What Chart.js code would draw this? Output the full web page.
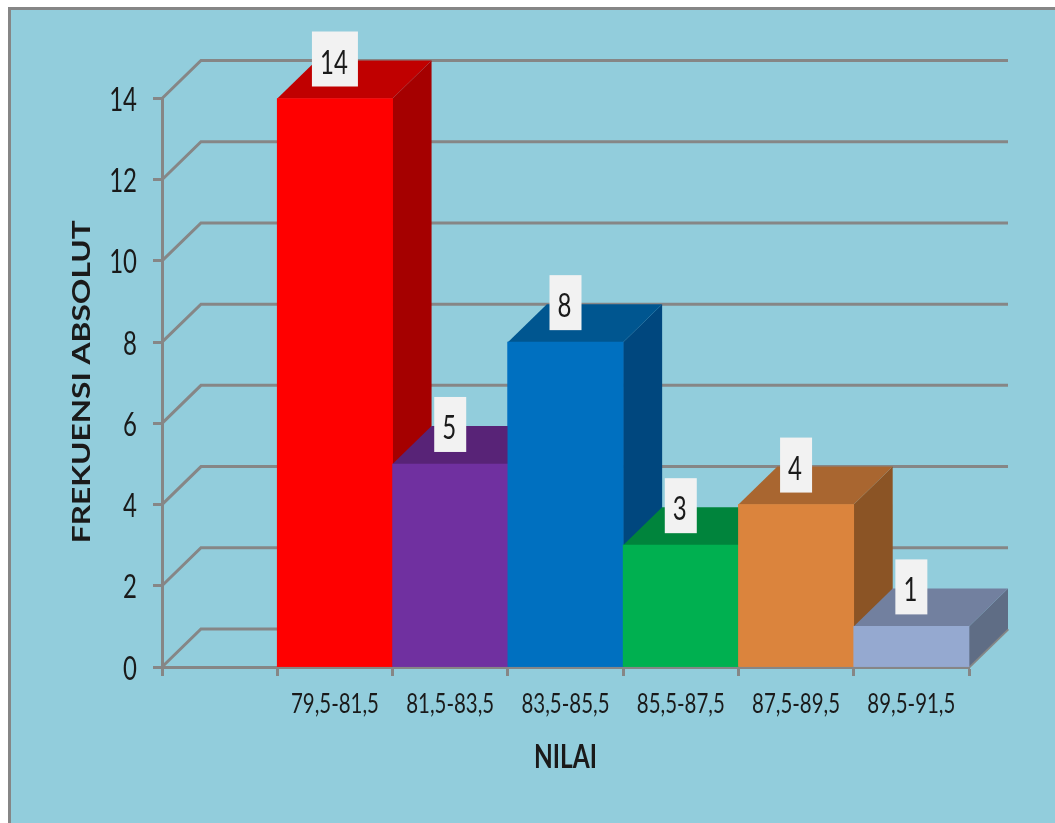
<!DOCTYPE html>
<html>
<head>
<meta charset="utf-8">
<style>
  html, body { margin: 0; padding: 0; width: 1055px; height: 823px; overflow: hidden; background: #fff; }
  #frame { position: absolute; left: 8px; top: 7px; width: 1100px; height: 900px; border: 3px solid #868686; background: #92cddc; }
  #chart { position: absolute; left: 0; top: 0; }
</style>
<script src="https://cdn.jsdelivr.net/npm/chart.js@4/dist/chart.umd.min.js"></script>
</head>
<body>
<div id="frame"></div>
<canvas id="chart" width="1055" height="823"></canvas>
<script>
// first category is empty in the original, bars start one slot in
const categories = ['', '79,5-81,5', '81,5-83,5', '83,5-85,5', '85,5-87,5', '87,5-89,5', '89,5-91,5'];
const frequencies = [null, 14, 5, 8, 3, 4, 1];
const xTitle = 'NILAI';
const yTitle = 'FREKUENSI ABSOLUT';

const frontColors = ['#000000', '#ff0000', '#7030a0', '#0070c0', '#00b050', '#db843d', '#95a9d0'];
const topColors = ['#000000', '#c00000', '#582377', '#005690', '#00843c', '#a96630', '#72809f'];
const sideColors = ['#000000', '#a50000', '#582377', '#00477e', '#006a30', '#8b5425', '#5f6d85'];

const GRAY = '#868686';
const INK = '#1a1a1a';
const DEPTH_X = 39;
const DEPTH_Y = 38;
const NARROW = 0.75; // the original text is squeezed horizontally

function poly(ctx, color, pts) {
  ctx.fillStyle = color;
  ctx.beginPath();
  pts.forEach((p, i) => i ? ctx.lineTo(p[0], p[1]) : ctx.moveTo(p[0], p[1]));
  ctx.closePath();
  ctx.fill();
}

// squeezed text, canvas fonts cannot do this on their own
function label(ctx, txt, x, y, font, opts) {
  const o = Object.assign({ align: 'center', sx: NARROW, angle: 0 }, opts);
  ctx.save();
  ctx.font = font;
  ctx.fillStyle = INK;
  ctx.textAlign = o.align;
  ctx.textBaseline = 'alphabetic';
  ctx.translate(x, y);
  ctx.rotate(o.angle);
  const sx = o.width ? o.width / ctx.measureText(txt).width : o.sx;
  ctx.scale(sx, 1);
  ctx.fillText(txt, 0, 0);
  ctx.restore();
}

const walls3d = {
  id: 'walls3d',
  // back wall lines and the floor edge
  beforeDatasetsDraw(chart) {
    const { ctx, chartArea: area, scales: { y } } = chart;
    ctx.save();
    ctx.strokeStyle = GRAY;
    ctx.lineWidth = 3;
    y.ticks.forEach(t => {
      const py = y.getPixelForValue(t.value);
      ctx.beginPath();
      ctx.moveTo(area.left, py);
      ctx.lineTo(area.left + DEPTH_X, py - DEPTH_Y);
      ctx.lineTo(area.right + DEPTH_X, py - DEPTH_Y);
      ctx.stroke();
    });
    ctx.beginPath();
    ctx.moveTo(area.right, area.bottom);
    ctx.lineTo(area.right + DEPTH_X, area.bottom - DEPTH_Y);
    ctx.stroke();
    ctx.restore();
  },
  // left to right so every bar covers the one before it
  afterDatasetsDraw(chart) {
    const { ctx } = chart;
    const bars = chart.getDatasetMeta(0).data;
    bars.forEach((bar, i) => {
      if (frequencies[i] === null) return;
      const half = bar.width / 2;
      const l = bar.x - half, r = bar.x + half, t = bar.y, b = bar.base;
      poly(ctx, sideColors[i], [[r, t], [r + DEPTH_X, t - DEPTH_Y], [r + DEPTH_X, b - DEPTH_Y], [r, b]]);
      poly(ctx, topColors[i], [[l, t], [l + DEPTH_X, t - DEPTH_Y], [r + DEPTH_X, t - DEPTH_Y], [r, t]]);
      bar.draw(ctx);
    });
    // value labels on white boxes
    bars.forEach((bar, i) => {
      if (frequencies[i] === null) return;
      const txt = String(frequencies[i]);
      const w = txt.length * 14 + 18;
      ctx.fillStyle = '#f2f2f2';
      ctx.fillRect(bar.x - w / 2, bar.y - 67, w, 55);
      label(ctx, txt, bar.x - 1, bar.y - 25, '32px Lato');
    });
  },
  // tick text and titles, placed from the scales
  afterDraw(chart) {
    const { ctx, chartArea: area, scales: { x, y } } = chart;
    y.ticks.forEach(t => {
      label(ctx, String(t.value), 137, y.getPixelForValue(t.value) + 12.5, '32px Lato', { align: 'right' });
    });
    categories.forEach((c, i) => {
      if (c) label(ctx, c, x.getPixelForTick(i), area.bottom + 46, '27px Lato', { width: 88 });
    });
    label(ctx, xTitle, (area.left + area.right) / 2, area.bottom + 101, 'bold 32px Lato', { width: 63 });
    label(ctx, yTitle, 90, (area.top + area.bottom) / 2 - 1, 'bold 25px Lato', { width: 323, angle: -Math.PI / 2 });
  }
};

new Chart(document.getElementById('chart'), {
  type: 'bar',
  data: {
    labels: categories,
    datasets: [{
      data: frequencies,
      backgroundColor: frontColors,
      barPercentage: 1,
      categoryPercentage: 1
    }]
  },
  plugins: [walls3d],
  options: {
    responsive: false,
    devicePixelRatio: 1,
    animation: false,
    layout: { padding: { left: 62, right: 86, top: 98.5, bottom: 0 } },
    plugins: { legend: { display: false }, tooltip: { enabled: false } },
    scales: {
      x: {
        afterFit(scale) { scale.height = 156; },
        border: { color: GRAY, width: 3 },
        grid: { offset: true, drawOnChartArea: false, color: GRAY, tickLength: 9, tickWidth: 3 },
        ticks: { display: false }
      },
      y: {
        min: 0,
        max: 14,
        afterFit(scale) { scale.width = 100; },
        border: { color: GRAY, width: 3 },
        grid: { drawOnChartArea: false, color: GRAY, tickLength: 9, tickWidth: 3 },
        ticks: { display: false, stepSize: 2 }
      }
    }
  }
});
</script>
</body>
</html>
